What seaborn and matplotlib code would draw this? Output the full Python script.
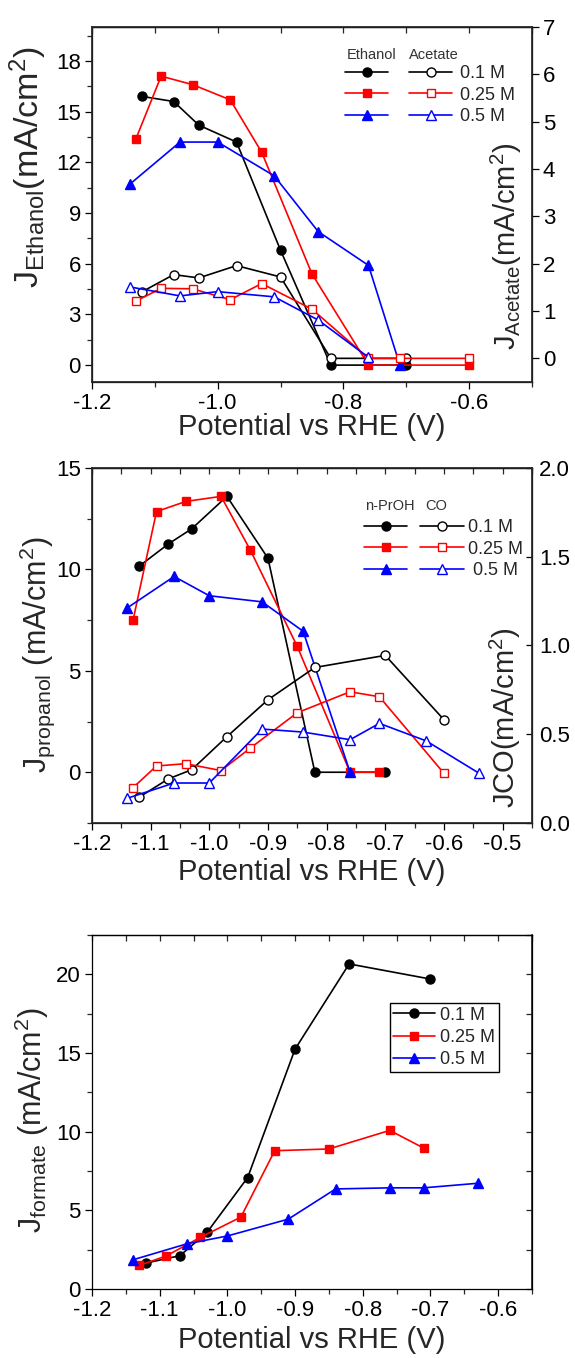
import matplotlib
matplotlib.use("Agg")
import matplotlib.pyplot as plt
import numpy as np
import pandas as pd
import seaborn as sns
from matplotlib.lines import Line2D
from matplotlib.ticker import MultipleLocator, FormatStrFormatter

sns.set_theme(style="ticks")
plt.rcParams['font.family'] = ['Liberation Sans', 'DejaVu Sans']
plt.rcParams['mathtext.fontset'] = 'custom'
plt.rcParams['mathtext.rm'] = 'Liberation Sans'
plt.rcParams['mathtext.it'] = 'Liberation Sans:italic'
plt.rcParams['mathtext.bf'] = 'Liberation Sans:bold'
plt.rcParams['axes.unicode_minus'] = False

# ---------------- data ----------------
conc_labels = ["0.1 M", "0.25 M", "0.5 M"]
colors = ["#000000", "#FF0000", "#0000FF"]
markers = ["o", "s", "^"]

# ethanol (left) / acetate (right)
eth_01_v = [-1.12, -1.07, -1.03, -0.97, -0.90, -0.82, -0.70]
eth_01_j = [15.9, 15.6, 14.2, 13.2, 6.8, 0.0, 0.0]
eth_025_v = [-1.13, -1.09, -1.04, -0.98, -0.93, -0.85, -0.76, -0.60]
eth_025_j = [13.4, 17.1, 16.6, 15.7, 12.6, 5.4, 0.0, 0.0]
eth_05_v = [-1.14, -1.06, -1.00, -0.91, -0.84, -0.76, -0.71]
eth_05_j = [10.7, 13.2, 13.2, 11.2, 7.9, 5.9, 0.0]

ace_01_v = [-1.12, -1.07, -1.03, -0.97, -0.90, -0.82, -0.70]
ace_01_j = [1.41, 1.77, 1.70, 1.96, 1.72, 0.0, 0.0]
ace_025_v = [-1.13, -1.09, -1.04, -0.98, -0.93, -0.85, -0.76, -0.71, -0.60]
ace_025_j = [1.21, 1.48, 1.47, 1.24, 1.58, 1.04, 0.0, 0.0, 0.0]
ace_05_v = [-1.14, -1.06, -1.00, -0.91, -0.84, -0.76]
ace_05_j = [1.51, 1.32, 1.41, 1.30, 0.81, 0.02]

# n-propanol (left) / CO (right)
prop_01_v = [-1.12, -1.07, -1.03, -0.97, -0.90, -0.82, -0.70]
prop_01_j = [10.15, 11.25, 12.0, 13.6, 10.55, 0.0, 0.0]
prop_025_v = [-1.13, -1.09, -1.04, -0.98, -0.93, -0.85, -0.76, -0.71]
prop_025_j = [7.5, 12.85, 13.35, 13.6, 10.95, 6.2, 0.0, 0.0]
prop_05_v = [-1.14, -1.06, -1.00, -0.91, -0.84, -0.76]
prop_05_j = [8.1, 9.65, 8.7, 8.4, 6.95, 0.0]

co_01_v = [-1.12, -1.07, -1.03, -0.97, -0.90, -0.82, -0.70, -0.60]
co_01_j = [0.144, 0.248, 0.300, 0.486, 0.694, 0.876, 0.944, 0.582]
co_025_v = [-1.13, -1.09, -1.04, -0.98, -0.93, -0.85, -0.76, -0.71, -0.60]
co_025_j = [0.199, 0.321, 0.334, 0.295, 0.422, 0.621, 0.739, 0.711, 0.280]
co_05_v = [-1.14, -1.06, -1.00, -0.91, -0.84, -0.76, -0.71, -0.63, -0.54]
co_05_j = [0.139, 0.225, 0.225, 0.529, 0.512, 0.469, 0.561, 0.462, 0.280]

# formate
form_01_v = [-1.12, -1.07, -1.03, -0.97, -0.90, -0.82, -0.70]
form_01_j = [1.65, 2.12, 3.6, 7.08, 15.24, 20.66, 19.70]
form_025_v = [-1.13, -1.09, -1.04, -0.98, -0.93, -0.85, -0.76, -0.71]
form_025_j = [1.50, 2.11, 3.28, 4.57, 8.79, 8.90, 10.08, 8.96]
form_05_v = [-1.14, -1.06, -1.00, -0.91, -0.84, -0.76, -0.71, -0.63]
form_05_j = [1.85, 2.87, 3.37, 4.44, 6.36, 6.43, 6.43, 6.72]

# ---------------- styling helpers ----------------
LW = 1.2
TICK_FS = 16
LABEL_FS = 21
LEG_FS = 13
MS = {"o": 6.5, "s": 6.0, "^": 7.5}


def series(ax, v, j, idx, filled):
    c = colors[idx]
    m = markers[idx]
    df = pd.DataFrame({"v": v, "j": j})
    sns.lineplot(data=df, x="v", y="j", ax=ax, color=c, linewidth=LW,
                 marker=m, markersize=MS[m],
                 markerfacecolor=c if filled else "white",
                 markeredgecolor=c, markeredgewidth=1.0,
                 sort=False, estimator=None, legend=False)


def proxy(idx, filled):
    c = colors[idx]
    m = markers[idx]
    return Line2D([], [], color=c, lw=LW, marker=m, markersize=MS[m],
                  markerfacecolor=c if filled else "white",
                  markeredgecolor=c, markeredgewidth=1.0)


def frame(ax):
    for s in ax.spines.values():
        s.set_linewidth(0.9)
        s.set_color("black")
        s.set_visible(True)
    ax.set_facecolor("white")


def bottom_left_ticks(ax):
    ax.tick_params(axis="both", which="major", direction="out", length=5,
                   width=0.9, labelsize=TICK_FS, pad=3, colors="black",
                   top=False, right=False)
    ax.tick_params(axis="both", which="minor", direction="out", length=3.5,
                   width=0.9, top=False, right=False)


def top_inward(ax, step):
    sec = ax.secondary_xaxis("top")
    sec.xaxis.set_major_locator(MultipleLocator(step))
    sec.tick_params(axis="x", which="both", direction="in", length=4,
                    width=0.9, labeltop=False)
    sec.spines["top"].set_linewidth(0.9)
    return sec


fig = plt.figure(figsize=(5.75, 13.58), dpi=100)
fig.patch.set_facecolor("white")

L, R = 0.16, 0.925

# ================= panel 1 : ethanol / acetate =================
ax1 = fig.add_axes([L, 0.7187, R - L, 0.980 - 0.7187])
frame(ax1)
for i, (v, j) in enumerate([(eth_01_v, eth_01_j), (eth_025_v, eth_025_j), (eth_05_v, eth_05_j)]):
    series(ax1, v, j, i, True)
ax1.set_xlim(-1.2, -0.5)
ax1.set_ylim(-1, 20)
ax1.xaxis.set_major_locator(MultipleLocator(0.2))
ax1.xaxis.set_minor_locator(MultipleLocator(0.1))
ax1.xaxis.set_major_formatter(FormatStrFormatter("%.1f"))
ax1.yaxis.set_major_locator(MultipleLocator(3))
ax1.yaxis.set_minor_locator(MultipleLocator(1.5))
bottom_left_ticks(ax1)
top_inward(ax1, 0.1)

ax1r = ax1.twinx()
for i, (v, j) in enumerate([(ace_01_v, ace_01_j), (ace_025_v, ace_025_j), (ace_05_v, ace_05_j)]):
    series(ax1r, v, j, i, False)
ax1r.set_ylim(-0.5, 7)
ax1r.yaxis.set_major_locator(MultipleLocator(1))
ax1r.tick_params(axis="y", which="major", direction="out", length=5, width=0.9,
                 labelsize=TICK_FS, pad=3, colors="black")

ax1.set_xlabel("Potential vs RHE (V)", fontsize=LABEL_FS)
ax1.xaxis.set_label_coords(0.5, -0.127)
ax1.xaxis.label.set_va("center")
ax1.set_ylabel(r"J$_{\mathrm{Ethanol}}$(mA/cm$^{2}$)", fontsize=24.5)
ax1.yaxis.set_label_coords(-0.145, 0.605)
ax1.yaxis.label.set_va("center")
ax1r.set_ylabel(r"J$_{\mathrm{Acetate}}$(mA/cm$^{2}$)", fontsize=LABEL_FS)
ax1r.yaxis.set_label_coords(0.943, 0.383)
ax1r.yaxis.label.set_va("center")

leg1 = ax1r.legend(handles=[proxy(0, True), proxy(1, True), proxy(2, True),
                            proxy(0, False), proxy(1, False), proxy(2, False)],
                   labels=["", "", ""] + conc_labels, ncol=2, frameon=False,
                   loc="upper left", bbox_to_anchor=(0.575, 0.893),
                   borderaxespad=0, borderpad=0, fontsize=LEG_FS,
                   handlelength=2.4, handletextpad=0.45, columnspacing=0.7,
                   labelspacing=0.25)
ax1r.text(0.58, 0.922, "Ethanol", transform=ax1r.transAxes, fontsize=10.5,
          color="#333333", va="center", ha="left")
ax1r.text(0.72, 0.922, "Acetate", transform=ax1r.transAxes, fontsize=10.5,
          color="#333333", va="center", ha="left")

# ================= panel 2 : n-propanol / CO =================
ax2 = fig.add_axes([L, 0.394, R - L, 0.6554 - 0.394])
frame(ax2)
for i, (v, j) in enumerate([(prop_01_v, prop_01_j), (prop_025_v, prop_025_j), (prop_05_v, prop_05_j)]):
    series(ax2, v, j, i, True)
ax2.set_xlim(-1.2, -0.45)
ax2.set_ylim(-2.5, 15)
ax2.xaxis.set_major_locator(MultipleLocator(0.1))
ax2.xaxis.set_minor_locator(MultipleLocator(0.05))
ax2.xaxis.set_major_formatter(FormatStrFormatter("%.1f"))
ax2.yaxis.set_major_locator(MultipleLocator(5))
ax2.yaxis.set_minor_locator(MultipleLocator(2.5))
bottom_left_ticks(ax2)
top_inward(ax2, 0.05)

ax2r = ax2.twinx()
for i, (v, j) in enumerate([(co_01_v, co_01_j), (co_025_v, co_025_j), (co_05_v, co_05_j)]):
    series(ax2r, v, j, i, False)
ax2r.set_ylim(0, 2)
ax2r.yaxis.set_major_locator(MultipleLocator(0.5))
ax2r.yaxis.set_major_formatter(FormatStrFormatter("%.1f"))
ax2r.tick_params(axis="y", which="major", direction="in", length=4, width=0.9,
                 labelsize=TICK_FS, pad=5, colors="black")

ax2.set_xlabel("Potential vs RHE (V)", fontsize=LABEL_FS)
ax2.xaxis.set_label_coords(0.5, -0.138)
ax2.xaxis.label.set_va("center")
ax2.set_ylabel(r"J$_{\mathrm{propanol}}$ (mA/cm$^{2}$)", fontsize=22)
ax2.yaxis.set_label_coords(-0.125, 0.473)
ax2.yaxis.label.set_va("center")
ax2r.set_ylabel(r"JCO(mA/cm$^{2}$)", fontsize=LABEL_FS)
ax2r.yaxis.set_label_coords(0.94, 0.296)
ax2r.yaxis.label.set_va("center")

leg2 = ax2r.legend(handles=[proxy(0, True), proxy(1, True), proxy(2, True),
                            proxy(0, False), proxy(1, False), proxy(2, False)],
                   labels=["", "", "", "0.1 M", "0.25 M", " 0.5 M"], ncol=2,
                   frameon=False, loc="upper left",
                   bbox_to_anchor=(0.618, 0.856), borderaxespad=0, borderpad=0,
                   fontsize=LEG_FS, handlelength=2.4, handletextpad=0.25,
                   columnspacing=0.47, labelspacing=0.25)
ax2r.text(0.620, 0.893, "n-PrOH", transform=ax2r.transAxes, fontsize=10.5,
          color="#333333", va="center", ha="left")
ax2r.text(0.757, 0.893, "CO", transform=ax2r.transAxes, fontsize=10.5,
          color="#333333", va="center", ha="left")

# ================= panel 3 : formate =================
ax3 = fig.add_axes([L, 0.0508, R - L, 0.3115 - 0.0508])
frame(ax3)
for i, (v, j) in enumerate([(form_01_v, form_01_j), (form_025_v, form_025_j), (form_05_v, form_05_j)]):
    series(ax3, v, j, i, True)
ax3.set_xlim(-1.2, -0.55)
ax3.set_ylim(0, 22.5)
ax3.xaxis.set_major_locator(MultipleLocator(0.1))
ax3.xaxis.set_minor_locator(MultipleLocator(0.05))
ax3.xaxis.set_major_formatter(FormatStrFormatter("%.1f"))
ax3.yaxis.set_major_locator(MultipleLocator(5))
ax3.yaxis.set_minor_locator(MultipleLocator(2.5))
bottom_left_ticks(ax3)
top_inward(ax3, 0.05)
sec_r = ax3.secondary_yaxis("right")
sec_r.yaxis.set_major_locator(MultipleLocator(2.5))
sec_r.tick_params(axis="y", which="both", direction="in", length=4,
                  width=0.9, labelright=False)

ax3.set_xlabel("Potential vs RHE (V)", fontsize=LABEL_FS)
ax3.xaxis.set_label_coords(0.5, -0.144)
ax3.xaxis.label.set_va("center")
ax3.set_ylabel(r"J$_{\mathrm{formate}}$ (mA/cm$^{2}$)", fontsize=22)
ax3.yaxis.set_label_coords(-0.136, 0.477)
ax3.yaxis.label.set_va("center")

leg3 = ax3.legend(handles=[proxy(0, True), proxy(1, True), proxy(2, True)],
                  labels=conc_labels, loc="upper left",
                  bbox_to_anchor=(0.677, 0.808), borderaxespad=0,
                  borderpad=0.2, fontsize=LEG_FS, handlelength=2.3,
                  handletextpad=0.28, labelspacing=0.3, fancybox=False,
                  frameon=True, edgecolor="black", framealpha=1)
leg3.get_frame().set_linewidth(1.0)

fig.savefig("out.png", dpi=100, facecolor="white")
